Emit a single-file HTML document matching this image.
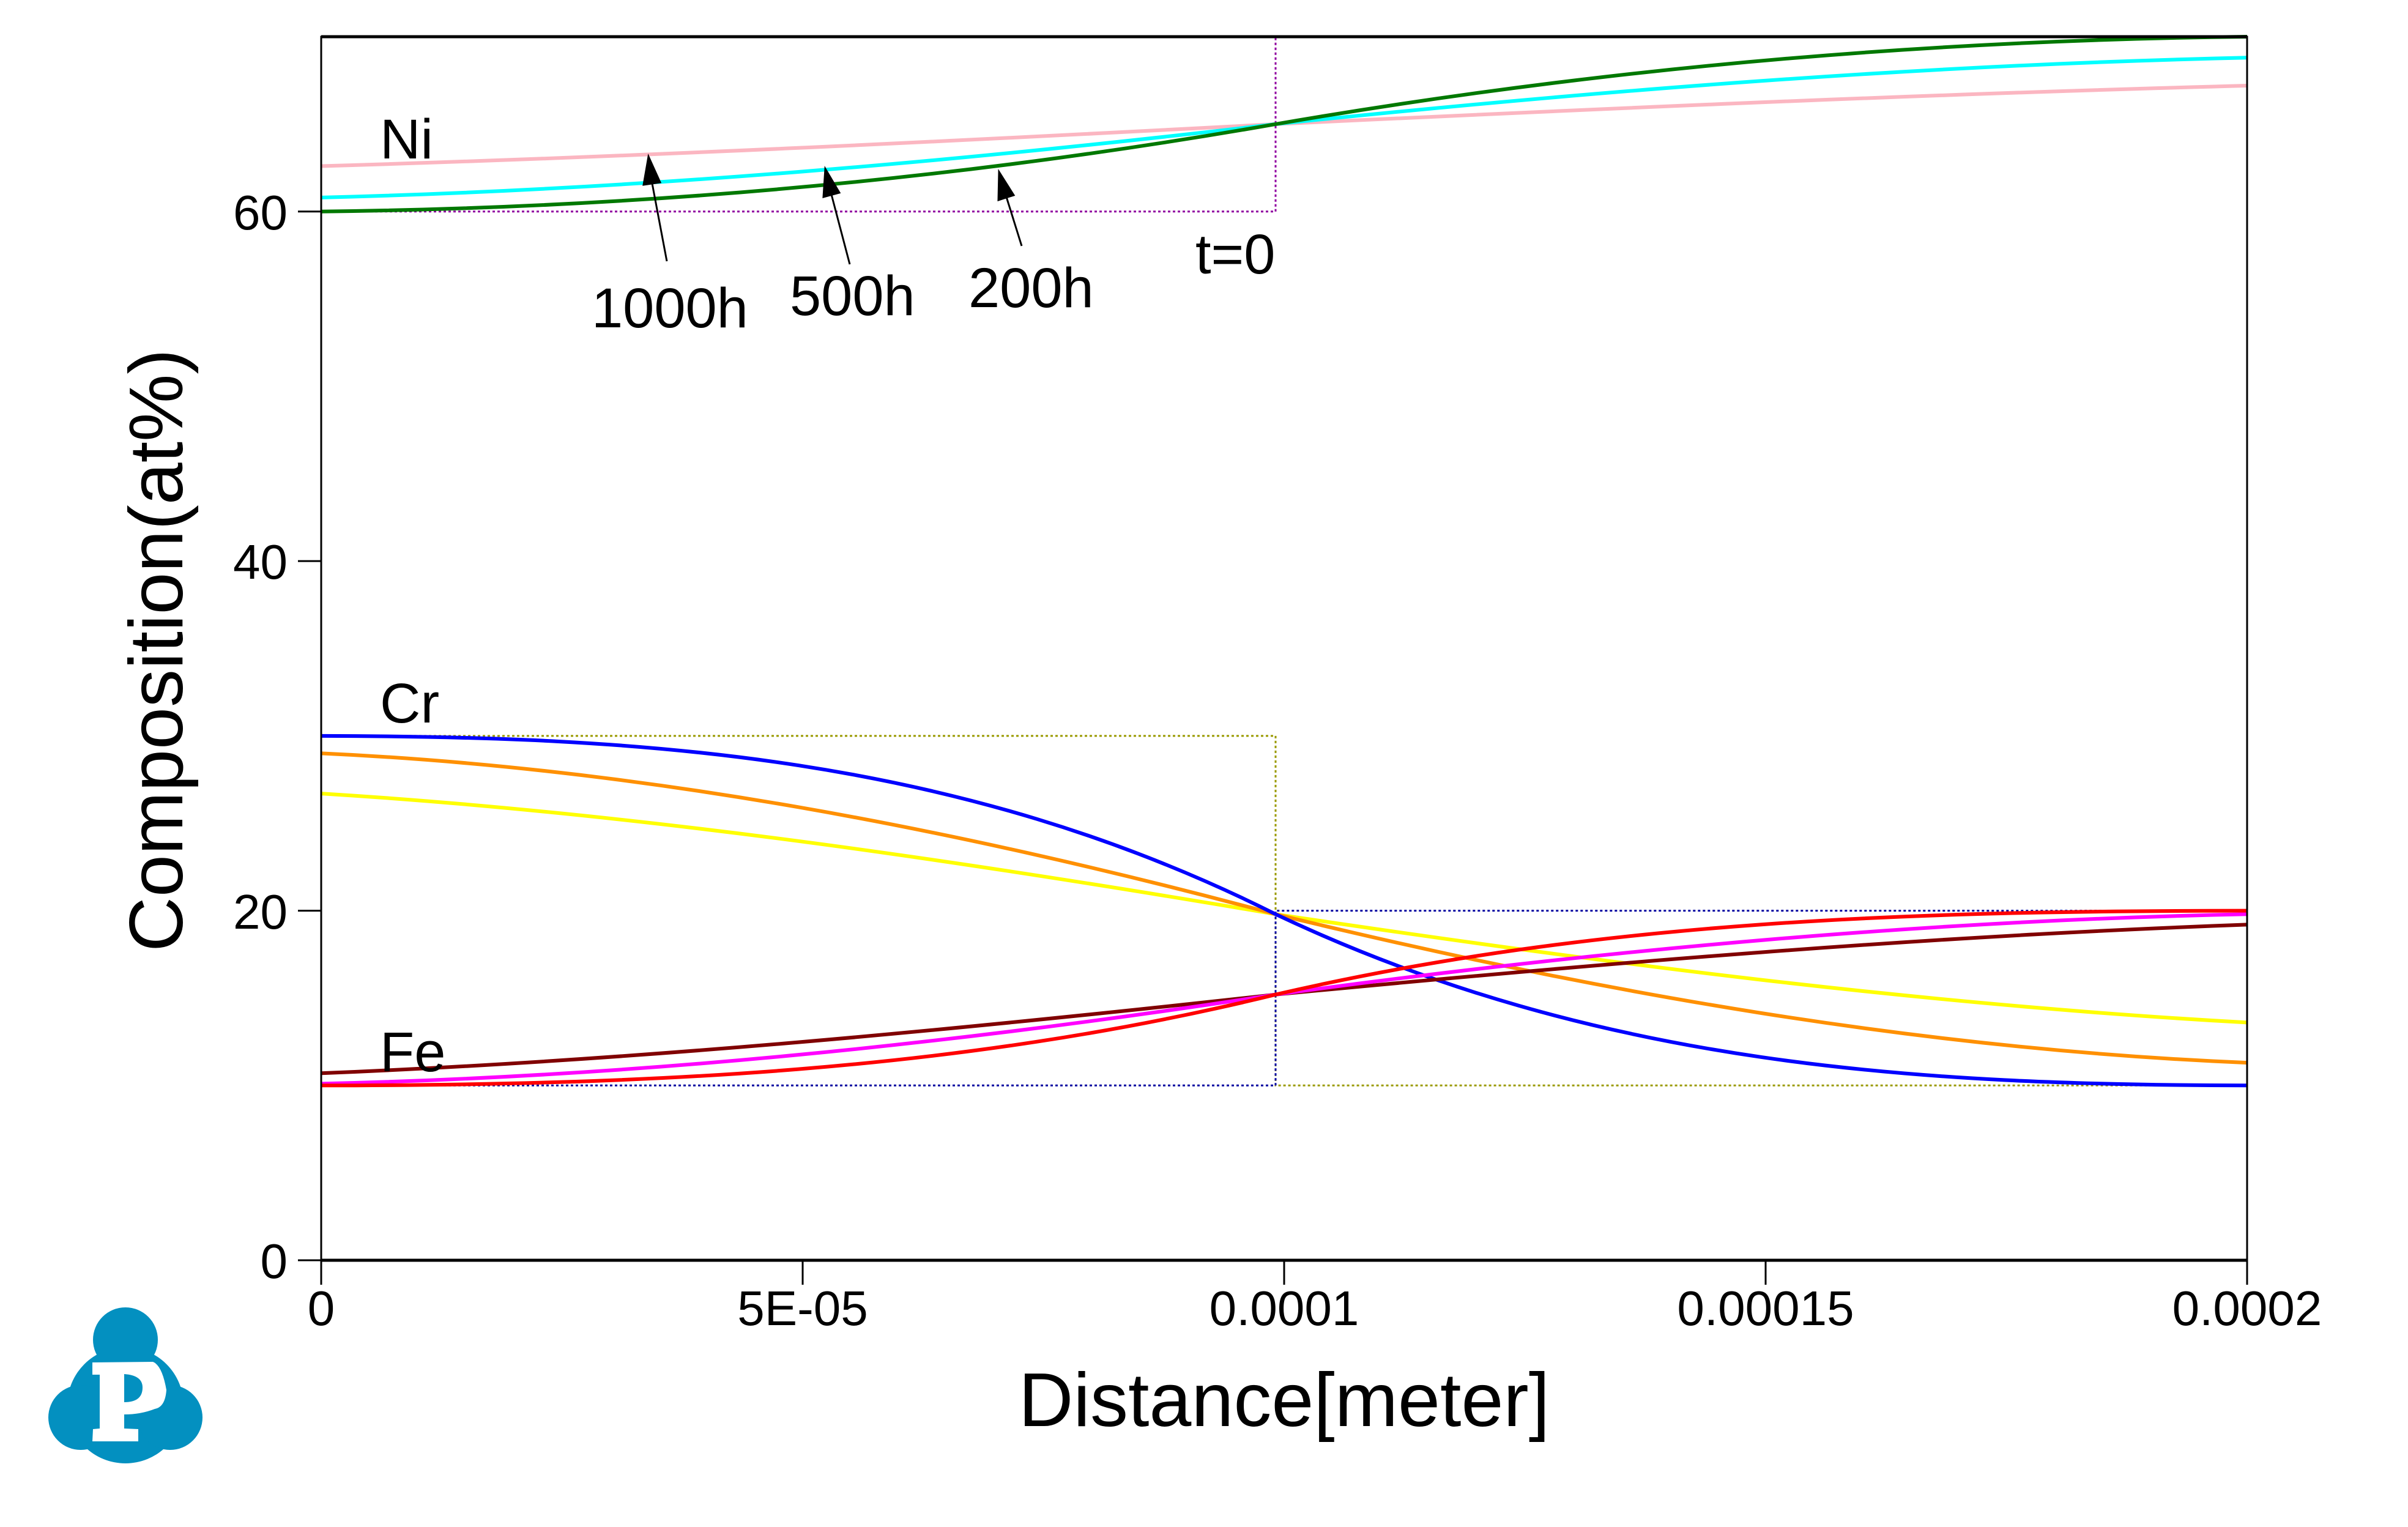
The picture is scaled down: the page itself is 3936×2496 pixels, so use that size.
<!DOCTYPE html>
<html><head><meta charset="utf-8"><style>
html,body{margin:0;padding:0;background:#fff;}
svg{display:block;}
text{font-family:"Liberation Sans",Arial,sans-serif;fill:#000;}
</style></head><body>
<svg width="3936" height="2496" viewBox="0 0 3936 2496" xmlns="http://www.w3.org/2000/svg">
<rect width="3936" height="2496" fill="#fff"/>
<!-- initial (t=0) dotted -->
<g fill="none" stroke-width="3" stroke-dasharray="4,4">
<path d="M525,345.7 H2085 V60 H3673" stroke="#9000a0"/>
<path d="M525,1202.9 H2085 V1774.3 H3673" stroke="#9a9a00"/>
<path d="M525,1774.3 H2085 V1488.6 H3673" stroke="#0000a0"/>
</g>
<g fill="none" stroke-width="6">
<path stroke="#fbb6c1" d="M525,271.5 C1045,256.3 1565,230.3 2085,202.9 C2614,177.8 3144,154.0 3673,140.0"/>
<path stroke="#00ffff" d="M525,322.9 C1045,310.0 1565,264.0 2085,202.9 C2614,147.7 3144,106.0 3673,94.3"/>
<path stroke="#007800" d="M525,345.7 C1045,340.0 1565,294.0 2085,202.9 C2614,111.8 3144,65.7 3673,60"/>
<path stroke="#ffff00" d="M525,1297.1 C1045,1329.4 1565,1406.3 2085,1494.3 C2614,1573.4 3144,1642.3 3673,1671.4"/>
<path stroke="#ff9000" d="M525,1231.4 C1045,1255.1 1565,1354.6 2085,1494.3 C2614,1623.4 3144,1715.4 3673,1737.1"/>
<path stroke="#0000ff" d="M525,1202.9 C1045,1203.7 1565,1233.4 2085,1494.3 C2614,1744.9 3144,1773.4 3673,1774.3"/>
<path stroke="#800000" d="M525,1754.3 C1045,1733.1 1565,1683.2 2085,1625.7 C2614,1574.9 3144,1530.3 3673,1511.4"/>
<path stroke="#ff00ff" d="M525,1771.4 C1045,1759.7 1565,1705.7 2085,1625.7 C2614,1553.4 3144,1504.9 3673,1494.3"/>
<path stroke="#ff0000" d="M525,1774.3 C1045,1773.7 1565,1753.4 2085,1625.7 C2614,1502.9 3144,1488.9 3673,1488.6"/>
</g>
<!-- frame -->
<rect x="525" y="60" width="3148" height="2000" fill="none" stroke="#000" stroke-width="3"/>
<line x1="525" y1="60" x2="3673" y2="60" stroke="#000" stroke-width="5"/>
<line x1="525" y1="2060" x2="3673" y2="2060" stroke="#000" stroke-width="5"/>
<g stroke="#000" stroke-width="3">
<line x1="487" y1="2060" x2="525" y2="2060"/>
<line x1="487" y1="1488.6" x2="525" y2="1488.6"/>
<line x1="487" y1="917.1" x2="525" y2="917.1"/>
<line x1="487" y1="345.7" x2="525" y2="345.7"/>
<line x1="525" y1="2060" x2="525" y2="2100"/>
<line x1="1312" y1="2060" x2="1312" y2="2100"/>
<line x1="2099" y1="2060" x2="2099" y2="2100"/>
<line x1="2886" y1="2060" x2="2886" y2="2100"/>
<line x1="3673" y1="2060" x2="3673" y2="2100"/>
</g>
<g font-size="80" text-anchor="end">
<text x="470" y="2089">0</text>
<text x="470" y="1518">20</text>
<text x="470" y="946">40</text>
<text x="470" y="375">60</text>
</g>
<g font-size="80" text-anchor="middle">
<text x="525" y="2166">0</text>
<text x="1312" y="2166">5E-05</text>
<text x="2099" y="2166">0.0001</text>
<text x="2886" y="2166">0.00015</text>
<text x="3673" y="2166">0.0002</text>
</g>
<text x="2099" y="2331" font-size="124" text-anchor="middle">Distance[meter]</text>
<text transform="translate(298,1063) rotate(-90)" font-size="124" text-anchor="middle">Composition(at%)</text>
<g font-size="92">
<text x="621" y="259">Ni</text>
<text x="621" y="1181">Cr</text>
<text x="621" y="1751">Fe</text>
<text x="967" y="535">1000h</text>
<text x="1291" y="515">500h</text>
<text x="1583" y="502">200h</text>
<text x="1954" y="447">t=0</text>
</g>
<g stroke="#000" stroke-width="3" fill="#000">
<line x1="1090" y1="427" x2="1066" y2="300"/>
<polygon points="1060,256 1052,302 1079,298"/>
<line x1="1389" y1="432" x2="1359" y2="318"/>
<polygon points="1349,276 1346,322 1372,315"/>
<line x1="1670" y1="402" x2="1645" y2="322"/>
<polygon points="1633,281 1632,327 1657,319"/>
</g>
<!-- logo -->
<g fill="#0390C0">
<circle cx="205" cy="2297" r="95"/>
<circle cx="205" cy="2190" r="53"/>
<circle cx="132" cy="2317" r="53"/>
<circle cx="278" cy="2317" r="53"/>
</g>
<path fill="#fff" fill-rule="evenodd" d="M151,2227 L250,2226 Q265,2232 272,2272 Q270,2300 253,2303 Q230,2312 203,2312 L203,2335 L226,2336 L226,2356 L151,2356 L152,2336 L163,2335 L163,2247 L151,2247 Z M203,2246 Q233,2248 233,2268 Q233,2292 203,2292 Z"/>
</svg>
</body></html>
